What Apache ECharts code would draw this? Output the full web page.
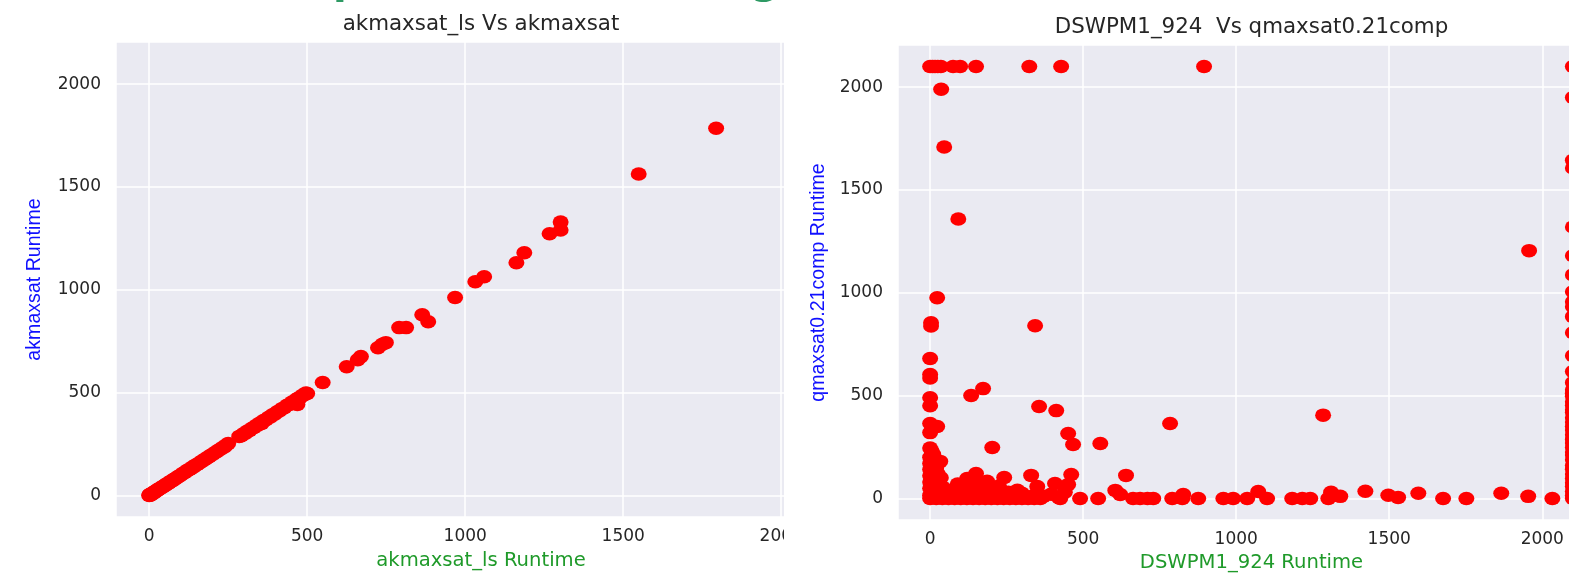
<!DOCTYPE html>
<html>
<head>
<meta charset="utf-8">
<script src="https://cdn.jsdelivr.net/npm/echarts@6/dist/echarts.min.js"></script>
<style>
  html, body { margin: 0; padding: 0; background: #fff; overflow: hidden; }
  #leftBox { position: absolute; left: 0; top: 0; width: 784px; height: 578px; overflow: hidden; }
  #rightBox { position: absolute; left: 784px; top: 0; width: 785px; height: 578px; overflow: hidden; }
  #leftChart { width: 962px; height: 578px; }
  #rightChart { position: relative; left: -2px; width: 939px; height: 578px; }
</style>
</head>
<body>
<div id="leftBox"><div id="leftChart"></div></div>
<div id="rightBox"><div id="rightChart"></div></div>
<script>
// tick values shown on both axes of both plots
const tickValues = [0, 500, 1000, 1500, 2000];

// [akmaxsat_ls runtime, akmaxsat runtime]
const akmaxsatPoints = [
  [0, 0], [1, 3], [2, 1], [3, 5], [5, 2], [6, 6], [8, 9], [10, 7], [12, 13], [15, 14],
  [18, 16], [20, 21], [23, 22], [26, 27], [29, 28], [32, 31], [35, 36], [38, 37], [42, 40], [45, 46],
  [48, 47], [52, 50], [55, 56], [59, 58], [63, 61], [66, 67], [70, 69], [74, 72], [78, 79], [82, 80],
  [86, 85], [90, 91], [95, 93], [99, 98], [104, 103], [108, 109], [113, 111], [118, 117], [122, 123], [127, 126],
  [132, 130], [137, 138], [142, 140], [147, 148], [152, 150], [158, 156], [163, 164], [168, 166], [174, 175], [179, 177],
  [185, 186], [190, 188], [196, 197], [202, 200], [208, 209], [214, 212], [220, 221], [226, 224], [232, 233], [238, 236],
  [244, 245], [250, 252], [285, 287], [292, 290], [298, 300], [305, 303], [311, 313], [318, 316], [325, 327], [332, 330],
  [338, 340], [345, 343], [350, 352], [356, 350], [362, 364], [370, 368], [377, 379], [384, 382], [390, 392], [397, 395],
  [405, 407], [412, 410], [420, 422], [428, 426], [436, 438], [444, 442], [452, 454], [460, 458], [469, 442], [465, 466],
  [472, 474], [478, 476], [485, 487], [490, 489], [496, 498], [500, 496], [549, 549], [625, 626], [660, 660], [670, 675],
  [724, 718], [738, 735], [749, 743], [791, 816], [813, 816], [864, 879], [883, 845], [968, 962], [1032, 1039], [1060, 1063],
  [1162, 1131], [1187, 1180], [1267, 1272], [1302, 1291], [1302, 1330], [1549, 1563], [1794, 1786]
];

// [DSWPM1_924 runtime, qmaxsat0.21comp runtime]
const qmaxsatPoints = [
  [0, 2100], [8, 2100], [16, 2100], [25, 2100], [35, 2100], [75, 2100], [98, 2100], [150, 2100], [324, 2100], [428, 2100],
  [895, 2100], [36, 1990], [46, 1709], [92, 1359], [23, 976], [3, 854], [3, 838], [343, 840], [0, 680], [0, 602],
  [0, 586], [173, 534], [134, 500], [0, 490], [0, 451], [356, 447], [412, 427], [0, 364], [23, 350], [0, 320],
  [784, 364], [451, 316], [467, 262], [556, 267], [203, 248], [1284, 405], [1957, 1205],
  [0, 245], [5, 230], [10, 215], [0, 200], [15, 190], [33, 180], [0, 170], [8, 160], [20, 150], [0, 140],
  [12, 130], [25, 120], [0, 110], [35, 100], [5, 95], [18, 85], [0, 80], [28, 70], [10, 60], [40, 55],
  [0, 50], [20, 40], [5, 30], [45, 25], [15, 20], [0, 15], [30, 10], [8, 5], [50, 8],
  [150, 121], [330, 112], [461, 116], [640, 112], [242, 102], [186, 83], [350, 58], [408, 73], [451, 68], [605, 39],
  [621, 19], [98, 58], [121, 97], [827, 19], [60, 40], [75, 20], [90, 70], [110, 30], [130, 50], [140, 10],
  [160, 65], [175, 35], [195, 15], [210, 45], [225, 60], [235, 20], [255, 30], [270, 10], [285, 40], [300, 25],
  [315, 5], [340, 15], [370, 10], [395, 20], [420, 5], [440, 30],
  [0, 0], [20, 0], [40, 0], [60, 0], [80, 0], [100, 0], [120, 0], [140, 0], [160, 0], [180, 0],
  [200, 0], [220, 0], [240, 0], [260, 0], [280, 0], [300, 0], [320, 0], [340, 0], [360, 0], [425, 0],
  [490, 0], [549, 0], [663, 0], [686, 0], [710, 0], [729, 0], [791, 0], [824, 0], [876, 0], [958, 0],
  [990, 0], [1036, 0], [1072, 34], [1101, 0], [1183, 0], [1216, 0], [1242, 0], [1301, 0], [1310, 30], [1340, 10],
  [1422, 35], [1497, 15], [1529, 5], [1595, 25], [1676, 0], [1752, 0], [1866, 25], [1954, 10], [2033, 0],
  [2100, 2100], [2100, 1950], [2100, 1645], [2100, 1607], [2100, 1320], [2100, 1180], [2100, 1087], [2100, 1005], [2100, 956], [2100, 932],
  [2100, 884], [2100, 806], [2100, 694], [2100, 617], [2100, 563], [2100, 528], [2100, 511], [2100, 497], [2100, 470], [2100, 452],
  [2100, 431], [2100, 418], [2100, 392], [2100, 371], [2100, 350], [2100, 333], [2100, 309], [2100, 287], [2100, 270], [2100, 248],
  [2100, 226], [2100, 211], [2100, 188], [2100, 160], [2100, 142], [2100, 119], [2100, 97], [2100, 76], [2100, 58], [2100, 33],
  [2100, 14], [2100, 0]
];

const GREEN = '#1f9a2a';
const BLUE = '#1010ff';
const TEXT = '#262626';

function valueAxis(name, color, font, nameGap, labelMargin) {
  return {
    type: 'value',
    min: -105,
    max: 2205,
    splitNumber: 5,
    name: name,
    nameLocation: 'middle',
    nameGap: nameGap,
    nameTextStyle: { color: color, fontFamily: font, fontSize: 19.6 },
    axisLine: { show: false },
    axisTick: { show: false },
    axisLabel: {
      color: TEXT,
      fontFamily: 'DejaVu Sans',
      fontSize: 17,
      margin: labelMargin,
      formatter: function (v) { return tickValues.indexOf(v) >= 0 ? String(v) : ''; }
    },
    splitLine: { lineStyle: { color: '#ffffff', width: 1.5 } }
  };
}

function makeOption(cfg) {
  return {
    animation: false,
    title: {
      text: cfg.title,
      left: 'center',
      top: cfg.titleTop,
      textStyle: { color: TEXT, fontFamily: 'DejaVu Sans', fontSize: 21.4, fontWeight: 'normal' }
    },
    grid: {
      left: cfg.left, top: cfg.top, width: cfg.width, height: 475,
      show: true, backgroundColor: '#eaeaf2', borderWidth: 0
    },
    xAxis: valueAxis(cfg.xName, GREEN, 'DejaVu Sans', cfg.xGap, 11),
    yAxis: valueAxis(cfg.yName, BLUE, 'Liberation Sans', cfg.yGap, 15),
    graphic: cfg.graphic || [],
    series: [{
      type: 'scatter',
      data: cfg.data,
      symbol: 'circle',
      symbolSize: [16, 13.5],
      itemStyle: { color: '#ff0000', opacity: 1 }
    }]
  };
}

// bits of the green notebook heading that peek in at the top edge
const headingBits = [
  { type: 'text', x: 333, y: -37, style: { text: 'p', fill: '#2e9a64', font: 'bold 40px "DejaVu Sans"' } },
  { type: 'text', x: 751, y: -37, style: { text: 'g', fill: '#2e9a64', font: 'bold 40px "DejaVu Sans"' } }
];

const leftChart = echarts.init(document.getElementById('leftChart'));
leftChart.setOption(makeOption({
  title: 'akmaxsat_ls Vs akmaxsat',
  titleTop: 9,
  left: 116, top: 42, width: 730,
  xName: 'akmaxsat_ls Runtime', yName: 'akmaxsat Runtime',
  xGap: 34, yGap: 71,
  data: akmaxsatPoints,
  graphic: headingBits
}));

const rightChart = echarts.init(document.getElementById('rightChart'));
rightChart.setOption(makeOption({
  title: 'DSWPM1_924  Vs qmaxsat0.21comp',
  titleTop: 12,
  left: 116, top: 45, width: 707,
  xName: 'DSWPM1_924 Runtime', yName: 'qmaxsat0.21comp Runtime',
  xGap: 33, yGap: 63,
  data: qmaxsatPoints
}));
</script>
</body>
</html>
